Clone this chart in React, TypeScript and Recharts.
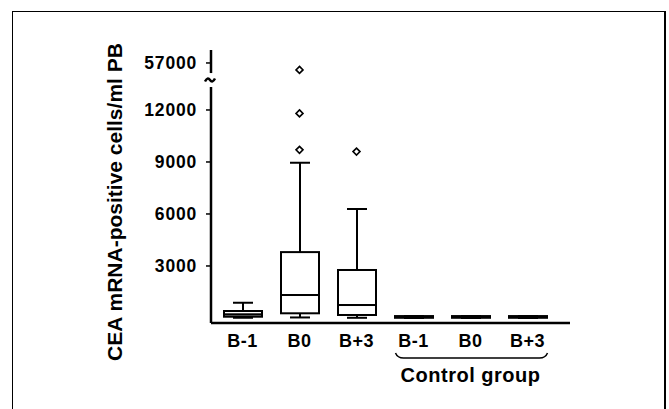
import React from 'react';
import { ComposedChart, Bar, Line, XAxis, YAxis, ReferenceLine, ReferenceDot } from 'recharts';

// ---------- data ----------
const CATEGORIES = ['P B-1', 'P B0', 'P B+3', 'C B-1', 'C B0', 'C B+3'];
const X_LABELS = ['B-1', 'B0', 'B+3', 'B-1', 'B0', 'B+3'];
const MIN = [20, 30, 10, 0, 0, 0];
const Q1 = [73, 270, 172, 10, 10, 10];
const MEDIAN = [212, 1325, 748, 60, 60, 60];
const Q3 = [402, 3800, 2768, 110, 110, 110];
const MAX = [881, 8950, 6280, 110, 110, 110];
const OUTLIER_1: (number | null)[] = [null, 56600, 9600, null, null, null];
const OUTLIER_2: (number | null)[] = [null, 11800, null, null, null, null];
const OUTLIER_3: (number | null)[] = [null, 9700, null, null, null, null];

const Y_TICK_VALUES = [3000, 6000, 9000, 12000, 57000];
const Y_TICK_LABELS = ['3000', '6000', '9000', '12000', '57000'];
const GROUP_LABEL = 'Control group';
const Y_LABEL = 'CEA mRNA-positive cells/ml PB';

// broken axis: values above the break are shifted down
const BREAK_VALUE = 12000;
const BREAK_SHIFT = 42288;
const toDisplay = (v: number | null) => (v == null ? null : v > BREAK_VALUE ? v - BREAK_SHIFT : v);

const Y_MIN = -290;
const Y_MAX = 15460;
const BREAK_LOW = 13325;
const BREAK_HIGH = 14130;
const BREAK_MID = 13728;

const Y_TICKS_DISPLAY = Y_TICK_VALUES.map((v) => toDisplay(v) as number);

const data = CATEGORIES.map((cat, i) => ({
  cat,
  base: MIN[i],
  lw: Q1[i] - MIN[i],
  lb: MEDIAN[i] - Q1[i],
  ub: Q3[i] - MEDIAN[i],
  uw: MAX[i] - Q3[i],
  o1: toDisplay(OUTLIER_1[i]),
  o2: toDisplay(OUTLIER_2[i]),
  o3: toDisplay(OUTLIER_3[i]),
}));

const FONT = 'Liberation Sans, Arial, Helvetica, sans-serif';
const STROKE = 2;

const BoxShape = (props: any) => {
  const { x, y, width, height } = props;
  if (x == null || y == null) return <g />;
  return <rect x={x} y={y} width={width} height={Math.max(height, 0)} fill="#fff" stroke="#000" strokeWidth={STROKE} />;
};

const makeWhisker = (capTop: boolean) => (props: any) => {
  const { x, y, width, height } = props;
  if (x == null || y == null) return <g />;
  const cx = x + width / 2;
  const capY = capTop ? y : y + height;
  return (
    <g>
      <line x1={cx} x2={cx} y1={y} y2={y + height} stroke="#000" strokeWidth={STROKE} />
      <line x1={cx - 10} x2={cx + 10} y1={capY} y2={capY} stroke="#000" strokeWidth={STROKE} />
    </g>
  );
};
const UpperWhisker = makeWhisker(true);
const LowerWhisker = makeWhisker(false);

const Diamond = (props: any) => {
  const { cx, cy, value, index } = props;
  if (cx == null || cy == null || value == null) return <g key={`d-${index}`} />;
  const r = 3.5;
  return (
    <path
      key={`d-${index}`}
      d={`M${cx},${cy - r} L${cx + r},${cy} L${cx},${cy + r} L${cx - r},${cy} Z`}
      fill="#fff"
      stroke="#000"
      strokeWidth={1.6}
    />
  );
};

const YTick = (props: any) => {
  const { x, y, payload } = props;
  const idx = Y_TICKS_DISPLAY.indexOf(payload.value);
  return (
    <text x={x} y={y} dy={6} textAnchor="end" fontFamily={FONT} fontWeight="bold" fontSize={17.5} letterSpacing={0.8} fill="#000">
      {idx >= 0 ? Y_TICK_LABELS[idx] : ''}
    </text>
  );
};

const XTick = (props: any) => {
  const { x, y, index } = props;
  return (
    <g>
      <text x={x} y={y} dy={24} textAnchor="middle" fontFamily={FONT} fontWeight="bold" fontSize={18} letterSpacing={0.5} fill="#000">
        {X_LABELS[index]}
      </text>
      {index === 4 && (
        <g>
          <path
            d={`M${x - 75},${y + 30} Q${x - 73},${y + 35} ${x - 67},${y + 35} L${x + 69},${y + 35} Q${x + 75},${y + 35} ${x + 77},${y + 30}`}
            fill="none"
            stroke="#000"
            strokeWidth={1.5}
          />
          <text x={x} y={y + 59} textAnchor="middle" fontFamily={FONT} fontWeight="bold" fontSize={20} letterSpacing={0.5} fill="#000">
            {GROUP_LABEL}
          </text>
        </g>
      )}
    </g>
  );
};

const YLabel = (props: any) => {
  const vb = props && props.viewBox ? props.viewBox : { x: 131, y: 50, width: 80, height: 273 };
  const x = vb.x - 9;
  const y = vb.y + 152;
  return (
    <text transform={`translate(${x},${y}) rotate(-90)`} textAnchor="middle" fontFamily={FONT} fontWeight="bold" fontSize={21} fill="#000">
      {Y_LABEL}
    </text>
  );
};

const Tilde = (props: any) => {
  const { cx, cy } = props;
  if (cx == null || cy == null) return <g />;
  const c = cx - 1;
  return (
    <path
      d={`M${c - 5},${cy + 1.5} Q${c - 2.5},${cy - 3.5} ${c},${cy} T${c + 5},${cy - 1.5}`}
      fill="none"
      stroke="#000"
      strokeWidth={2.5}
    />
  );
};

export default function App() {
  return (
    <div style={{ position: 'absolute', left: 0, top: 0, width: 669, height: 409, background: '#fff', overflow: 'hidden' }}>
      <div
        style={{
          position: 'absolute',
          left: 12,
          top: 11,
          width: 654,
          height: 430,
          border: '1px solid #000',
          borderRightWidth: 2,
          boxSizing: 'border-box',
          pointerEvents: 'none',
        }}
      />
      <ComposedChart
        width={669}
        height={409}
        data={data}
        margin={{ top: 50, right: 99, bottom: 56, left: 131 }}
        barSize={38}
        style={{ fontFamily: FONT }}
      >
        <XAxis
          dataKey="cat"
          type="category"
          interval={0}
          height={30}
          tickLine={false}
          tickSize={0}
          tickMargin={0}
          axisLine={{ stroke: '#000', strokeWidth: 2.5 }}
          padding={{ left: 3, right: 14 }}
          tick={<XTick />}
        />
        <XAxis xAxisId="n" type="number" domain={[0, 1]} hide allowDataOverflow />
        <YAxis
          type="number"
          domain={[Y_MIN, Y_MAX]}
          allowDataOverflow
          ticks={Y_TICKS_DISPLAY}
          interval={0}
          width={80}
          axisLine={false}
          tickLine={{ stroke: '#000', strokeWidth: 1.5 }}
          tickSize={5}
          tickMargin={9}
          tick={<YTick />}
          label={{ content: (p: any) => <YLabel {...p} /> } as any}
        />
        <ReferenceLine
          xAxisId="n"
          segment={[{ x: 0, y: Y_MIN }, { x: 0, y: BREAK_LOW }]}
          stroke="#000"
          strokeWidth={2.5}
          ifOverflow="visible"
        />
        <ReferenceLine
          xAxisId="n"
          segment={[{ x: 0, y: BREAK_HIGH }, { x: 0, y: Y_MAX }]}
          stroke="#000"
          strokeWidth={2.5}
          ifOverflow="visible"
        />
        <ReferenceDot xAxisId="n" x={0} y={BREAK_MID} r={4} ifOverflow="visible" shape={(p: any) => <Tilde {...p} />} />
        <Bar dataKey="base" stackId="box" fill="transparent" isAnimationActive={false} shape={() => <g />} />
        <Bar dataKey="lw" stackId="box" isAnimationActive={false} shape={(p: any) => <LowerWhisker {...p} />} />
        <Bar dataKey="lb" stackId="box" isAnimationActive={false} shape={(p: any) => <BoxShape {...p} />} />
        <Bar dataKey="ub" stackId="box" isAnimationActive={false} shape={(p: any) => <BoxShape {...p} />} />
        <Bar dataKey="uw" stackId="box" isAnimationActive={false} shape={(p: any) => <UpperWhisker {...p} />} />
        <Line dataKey="o1" stroke="none" isAnimationActive={false} activeDot={false} dot={(p: any) => <Diamond {...p} />} legendType="none" />
        <Line dataKey="o2" stroke="none" isAnimationActive={false} activeDot={false} dot={(p: any) => <Diamond {...p} />} legendType="none" />
        <Line dataKey="o3" stroke="none" isAnimationActive={false} activeDot={false} dot={(p: any) => <Diamond {...p} />} legendType="none" />
      </ComposedChart>
    </div>
  );
}
